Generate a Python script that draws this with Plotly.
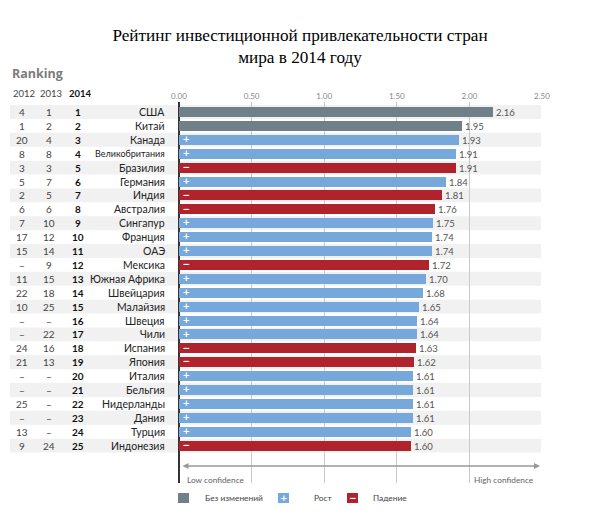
import plotly.graph_objects as go

title_text = "Рейтинг инвестиционной привлекательности стран<br>мира в 2014 году"
countries = ["США", "Китай", "Канада", "Великобритания", "Бразилия", "Германия", "Индия",
             "Австралия", "Сингапур", "Франция", "ОАЭ", "Мексика", "Южная Африка", "Швейцария",
             "Малайзия", "Швеция", "Чили", "Испания", "Япония", "Италия", "Бельгия",
             "Нидерланды", "Дания", "Турция", "Индонезия"]
scores = [2.16, 1.95, 1.93, 1.91, 1.91, 1.84, 1.81, 1.76, 1.75, 1.74, 1.74, 1.72, 1.70,
          1.68, 1.65, 1.64, 1.64, 1.63, 1.62, 1.61, 1.61, 1.61, 1.61, 1.60, 1.60]
status = ["same", "same", "up", "up", "down", "up", "down", "down", "up", "up", "up", "down",
          "up", "up", "up", "up", "up", "down", "down", "up", "up", "up", "up", "up", "down"]
rank_2012 = ["4", "1", "20", "8", "3", "5", "2", "6", "7", "17", "15", "–", "11", "22", "10",
             "–", "–", "24", "21", "–", "–", "25", "–", "13", "9"]
rank_2013 = ["1", "2", "4", "8", "3", "7", "5", "6", "10", "12", "14", "9", "15", "18", "25",
             "–", "22", "16", "13", "–", "–", "–", "–", "–", "24"]
rank_2014 = list(range(1, 26))
year_headers = ["2012", "2013", "2014"]
tick_vals = [0, 0.5, 1.0, 1.5, 2.0, 2.5]
status_labels = {"same": "Без изменений", "up": "Рост", "down": "Падение"}
status_signs = {"same": "", "up": "+", "down": "−"}

# ---- styling / layout geometry (reference pixel positions, page body offset compensated) ----
W, H = 600, 514
OFF = 8  # default page body margin
PLOT_X0, PLOT_X1, PLOT_Y0, PLOT_Y1 = 179, 542, 102, 483
L, R, T, B = PLOT_X0 - OFF, W - (PLOT_X1 - OFF), PLOT_Y0 - OFF, H - (PLOT_Y1 - OFF)
PW, PH = W - L - R, H - T - B
ROW0_PX, ROW_STEP = 112, 13.9
colors = {"same": "#6f8089", "up": "#76a8dc", "down": "#b0222c"}
SANS = "Lato, 'Open Sans', sans-serif"


def xp(px):
    return (px - PLOT_X0) / PW


def yp(px):
    return (PLOT_Y1 - px) / PH


fig = go.Figure()

for st in ["same", "up", "down"]:
    idx = [i for i, s in enumerate(status) if s == st]
    fig.add_trace(go.Bar(
        x=[scores[i] for i in idx],
        y=[rank_2014[i] for i in idx],
        orientation="h",
        width=0.72,
        marker=dict(color=colors[st], line=dict(width=0)),
        text=[f"{scores[i]:.2f}" for i in idx],
        textposition="outside",
        constraintext="none",
        cliponaxis=False,
        textfont=dict(family=SANS, size=9.5, color="#555555"),
        name=status_labels[st],
        showlegend=False,
        hoverinfo="skip",
    ))

# signs inside bars
sign_idx = [i for i, s in enumerate(status) if status_signs[s]]
fig.add_trace(go.Scatter(
    x=[0.05] * len(sign_idx),
    y=[rank_2014[i] for i in sign_idx],
    mode="text",
    text=[f"<b>{status_signs[status[i]]}</b>" for i in sign_idx],
    textfont=dict(family="DejaVu Sans", size=9, color="white"),
    showlegend=False,
    hoverinfo="skip",
    cliponaxis=False,
))

shapes = []
annotations = []

# alternating row bands
for r in rank_2014:
    if r % 2 == 1:
        shapes.append(dict(type="rect", xref="paper", yref="y", x0=xp(10), x1=xp(541),
                           y0=r - 0.5, y1=r + 0.5, fillcolor="#f1f1f1",
                           line=dict(width=0), layer="below"))

# ranking columns
col_x = [22, 49, 78]
for i, r in enumerate(rank_2014):
    for c, vals in enumerate([rank_2012, rank_2013, [str(v) for v in rank_2014]]):
        txt = vals[i]
        annotations.append(dict(
            x=xp(col_x[c]), y=r, xref="paper", yref="y", xanchor="center", yanchor="middle",
            text=f"<b>{txt}</b>" if c == 2 else txt, showarrow=False,
            font=dict(family=SANS, size=10, color="#111111" if c == 2 else "#444444")))
    name = countries[i]
    annotations.append(dict(
        x=xp(167), y=r, xref="paper", yref="y", xanchor="right", yanchor="middle",
        text=name, showarrow=False,
        font=dict(family=SANS, size=9 if len(name) > 12 else 10.5, color="#222222")))

# headers
for c, hdr in enumerate(year_headers):
    annotations.append(dict(
        x=xp(col_x[c] + 2), y=yp(94), xref="paper", yref="paper", xanchor="center",
        yanchor="middle", text=f"<b>{hdr}</b>" if c == 2 else hdr, showarrow=False,
        font=dict(family=SANS, size=9.5, color="#111111" if c == 2 else "#444444")))
annotations.append(dict(
    x=xp(10), y=yp(73), xref="paper", yref="paper", xanchor="left", yanchor="middle",
    text="<b>Ranking</b>", showarrow=False,
    font=dict(family="'Open Sans', sans-serif", size=12.5, color="#7c7c7c")))

# confidence arrow
annotations.append(dict(
    x=xp(540), y=yp(466), ax=xp(181), ay=yp(466), xref="x domain", yref="y domain",
    axref="x domain", ayref="y domain", text="", showarrow=True, arrowhead=2,
    arrowside="end+start", arrowsize=0.8, arrowwidth=1.5, arrowcolor="#999999"))
annotations.append(dict(
    x=xp(185), y=yp(480), xref="paper", yref="paper", xanchor="left", yanchor="middle",
    text="Low confidence", showarrow=False,
    font=dict(family=SANS, size=8.3, color="#666666")))
annotations.append(dict(
    x=xp(536), y=yp(480), xref="paper", yref="paper", xanchor="right", yanchor="middle",
    text="High confidence", showarrow=False,
    font=dict(family=SANS, size=8.3, color="#666666")))

# custom legend
legend_pos = {"same": (178, 203), "up": (278, 312), "down": (347, 371)}
for st in ["same", "up", "down"]:
    sx, tx = legend_pos[st]
    shapes.append(dict(type="rect", xref="paper", yref="paper", x0=xp(sx), x1=xp(sx + 11),
                       y0=yp(503), y1=yp(493), fillcolor=colors[st], line=dict(width=0)))
    if status_signs[st]:
        annotations.append(dict(
            x=xp(sx + 5.5), y=yp(498), xref="paper", yref="paper", xanchor="center",
            yanchor="middle", text=f"<b>{status_signs[st]}</b>", showarrow=False,
            font=dict(family="DejaVu Sans", size=9, color="white")))
    annotations.append(dict(
        x=xp(tx), y=yp(498), xref="paper", yref="paper", xanchor="left", yanchor="middle",
        text=status_labels[st], showarrow=False,
        font=dict(family=SANS, size=8.4, color="#444444")))

fig.update_layout(
    width=W, height=H,
    margin=dict(l=L, r=R, t=T, b=B),
    paper_bgcolor="white", plot_bgcolor="white",
    title=dict(text=title_text, x=(300 - OFF) / W, xref="container", xanchor="center",
               y=1 - (40.5 - OFF) / H, yref="container", yanchor="middle",
               font=dict(family="'Liberation Serif', serif", size=17.2, color="#000000")),
    xaxis=dict(range=[0, 2.5], side="top", tickvals=tick_vals, tickformat=".2f",
               showgrid=True, gridcolor="#c9c9c9", gridwidth=1,
               zeroline=True, zerolinecolor="#333333", zerolinewidth=2,
               ticks="", showline=False, fixedrange=True,
               tickfont=dict(family=SANS, size=8, color="#888888")),
    yaxis=dict(range=[1 + (PLOT_Y1 - ROW0_PX) / ROW_STEP, 1 - (ROW0_PX - PLOT_Y0) / ROW_STEP],
               showgrid=False, zeroline=False, showticklabels=False, ticks="",
               fixedrange=True),
    shapes=shapes,
    annotations=annotations,
    bargap=0,
)

fig.write_html("out.html")
